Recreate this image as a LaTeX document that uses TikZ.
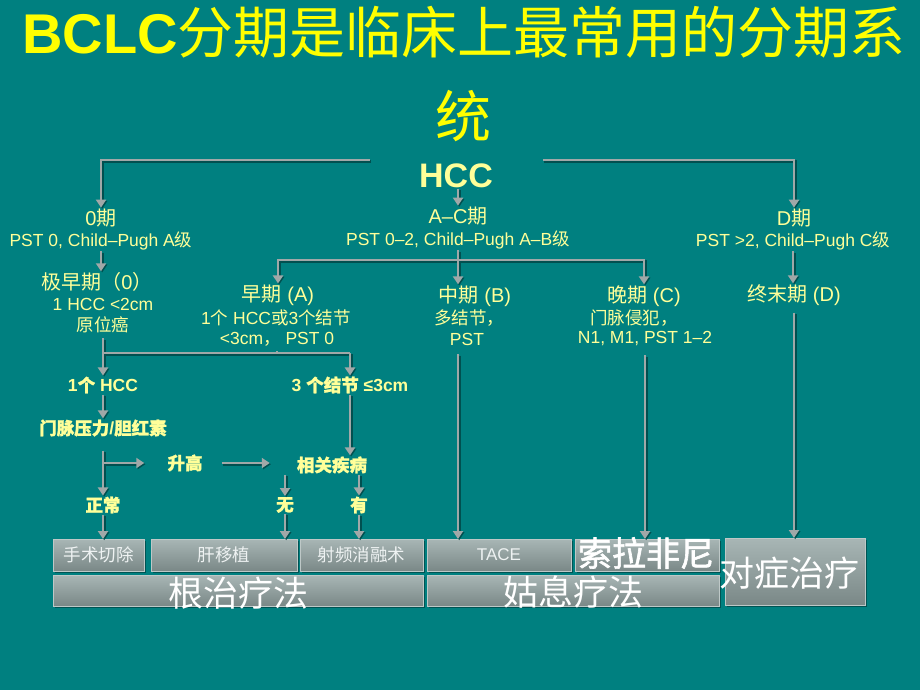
\documentclass[tikz,border=0pt]{standalone}
\usepackage{fontspec}
\setmainfont{Liberation Sans}
\newfontfamily\cjk{Noto Sans CJK SC}
\newfontfamily\cjkB[FakeBold=1.2]{Noto Sans CJK SC}
\newfontfamily\cjkBB[FakeBold=1.8]{Noto Sans CJK SC}
\newcommand{\zh}[1]{{\cjk #1}}
\newcommand{\zhb}[1]{{\cjkB #1}}
\usetikzlibrary{arrows.meta,shadows,calc}
\definecolor{bgc}{RGB}{0,128,128}
\definecolor{ty}{RGB}{255,255,153}
\definecolor{titley}{RGB}{255,255,0}
\definecolor{lg}{RGB}{160,168,168}
\definecolor{shd}{RGB}{0,80,80}
\definecolor{bt}{RGB}{168,182,181}
\definecolor{bbm}{RGB}{122,136,135}
\definecolor{bb}{RGB}{190,200,199}
\definecolor{bw}{RGB}{238,242,242}
\tikzset{
  hd/.style={text=ty, inner sep=1pt, font=\fontsize{20}{22}\selectfont},
  dt/.style={text=ty, inner sep=1pt, font=\fontsize{17.5}{20}\selectfont},
  bl/.style={text=ty, inner sep=1pt, font=\fontsize{17.5}{20}\selectfont\bfseries},
  ln/.style={draw=lg, line width=2.6pt, preaction={draw=shd, line width=2.6pt, transform canvas={shift={(1.2,1.2)}}}},
  arr/.style={ln, -{Triangle[width=10pt,length=8pt]}},
  box/.style={draw=bb, line width=0.8pt, top color=bt, bottom color=bbm, inner sep=0pt, outer sep=0pt,
    drop shadow={shadow xshift=1.5pt, shadow yshift=-1.5pt, fill=black, opacity=0.35}},
  bxs/.style={text=bw, inner sep=1pt, font=\fontsize{17.5}{20}\selectfont},
  bxl/.style={text=white, inner sep=1pt, font=\fontsize{35}{38}\selectfont}
}
\begin{document}
\begin{tikzpicture}[x=1pt,y=-1pt]
\fill[bgc] (0,0) rectangle (920,690);
\useasboundingbox (0,0) rectangle (920,690);

% title
\node[anchor=base west, inner sep=0pt, text=titley, font=\fontsize{56}{60}\selectfont] (t1) at (22,54)
  {{\bfseries BCLC}\zh{分期是临床上最常用的分期系}};
\node[anchor=base, inner sep=0pt, text=titley, font=\fontsize{56}{60}\selectfont] (t2) at (463,137) {\zh{统}};

% top level
\node[anchor=base, inner sep=1pt, text=ty, font=\fontsize{34}{36}\selectfont\bfseries] (hcc) at (456,187) {HCC};
\node[hd] (s0) at (101,218) {0\zh{期}};
\node[dt] (s0d) at (101,241) {PST 0, Child–Pugh A\zh{级}};
\node[hd] (sAC) at (458,216) {A–C\zh{期}};
\node[dt] (sACd) at (458,240) {PST 0–2, Child–Pugh A–B\zh{级}};
\node[hd] (sD) at (794,218) {D\zh{期}};
\node[dt] (sDd) at (793,241) {PST >2, Child–Pugh C\zh{级}};

% second level
\node[hd] (s0e) at (97,282) {\zh{极早期（}0\zh{）}};
\node[dt] (s0e1) at (103,304) {1 HCC <2cm};
\node[dt] (s0e2) at (103,325) {\zh{原位癌}};
\node[hd] (sA) at (278,295) {\zh{早期} (A)};
\node[dt] (sA1) at (276,318) {1\zh{个} HCC\zh{或}3\zh{个结节}};
\node[dt] (sA2) at (277,339) {<3cm\zh{，} PST 0};
\node[hd] (sB) at (475,296) {\zh{中期} (B)};
\node[dt] (sB1) at (469,318) {\zh{多结节，}};
\node[dt] (sB2) at (467,339) {PST};
\node[hd] (sC) at (644,296) {\zh{晚期} (C)};
\node[dt] (sC1) at (634,318) {\zh{门脉侵犯，}};
\node[dt] (sC2) at (645,339) {N1, M1, PST 1–2};
\node[hd] (sDe) at (794,295) {\zh{终末期} (D)};

% bold labels
\node[bl] (n1) at (103,385) {1\zhb{个} HCC};
\node[bl] (n3) at (350,385) {3 \zhb{个结节} ≤3cm};
\node[bl] (nP) at (103,428) {\zhb{门脉压力}/\zhb{胆红素}};
\node[bl] (nUp) at (185,463) {\zhb{升高}};
\node[bl] (nRel) at (332,465) {\zhb{相关疾病}};
\node[bl] (nNorm) at (103,505) {\zhb{正常}};
\node[bl] (nNo) at (285,505) {\zhb{无}};
\node[bl] (nYes) at (359,505) {\zhb{有}};

% boxes
\node[box, minimum width=91pt, minimum height=32pt] (b1) at (98.5,555) {};
\node[box, minimum width=146pt, minimum height=32pt] (b2) at (224,555) {};
\node[box, minimum width=123pt, minimum height=32pt] (b3) at (361.5,555) {};
\node[box, minimum width=144pt, minimum height=32pt] (bT) at (499,555) {};
\node[box, minimum width=144pt, minimum height=32pt] (bS) at (647,555) {};
\node[box, minimum width=140pt, minimum height=67pt] (bD) at (795,571.5) {};
\node[box, minimum width=370pt, minimum height=31pt] (bR) at (238,590.5) {};
\node[box, minimum width=292pt, minimum height=31pt] (bP) at (573,590.5) {};

\node[bxs] (l1) at (b1) {\zh{手术切除}};
\node[bxs] (l2) at (b2) {\zh{肝移植}};
\node[bxs] (l3) at (b3) {\zh{射频消融术}};
\node[bxs, font=\fontsize{17}{20}\selectfont] (lT) at (bT) {TACE};
\node[text=white, inner sep=1pt, font=\fontsize{34}{36}\selectfont] (lS) at (646,553) {{\cjkBB 索拉非尼}};
\node[bxl] (lD) at (789,573) {\zh{对症治疗}};
\node[bxl] (lR) at (238,593) {\zh{根治疗法}};
\node[bxl] (lP) at (573,592) {\zh{姑息疗法}};

% connectors
\coordinate (hl) at (370,160);
\coordinate (hr) at (543,160);
\coordinate (hb) at (458,260);
\coordinate (hj) at (103,353);
\draw[arr] (hl) -| (s0.north);
\draw[arr] (hr) -| (sD.north);
\draw[arr] (hcc.south -| sAC.north) -- (sAC.north);
\draw[ln] (sACd.south) -- (hb);
\draw[arr] (hb) -| (sA.north);
\draw[arr] (hb) -| (sC.north);
\draw[arr] (hb) -- (hb |- sB.north);
\draw[arr] (s0d.south) -- (s0d.south |- s0e.north);
\draw[arr] (sDd.south) -- (sDd.south |- sDe.north);

\draw[arr, shorten <=4pt] (s0e2.south) -- (s0e2.south |- n1.north);
\draw[ln, shorten <=4pt] (sA2.south) -- (sA2.south |- hj);
\draw[ln] (hj) -- (hj -| n3.north);
\draw[arr] (hj -| n3.north) -- (n3.north);
\draw[arr] (n1.south) -- (nP.north);
\draw[arr, shorten <=13pt] (nP.south) -- (nNorm.north);
\draw[arr] (nUp.west -| nP.south) -- ([xshift=-22pt]nUp.west);
\draw[arr] ([xshift=18pt]nUp.east) -- ($(nRel.west |- nUp.east)+(-26,0)$);
\draw[arr] (n3.south) -- (n3.south |- nRel.north);
\draw[arr] (nRel.south -| nNo) -- (nNo.north);
\draw[arr] (nRel.south -| nYes) -- (nYes.north);
\draw[arr] (nNorm.south) -- (nNorm.south |- b1.north);
\draw[arr] (nNo.south) -- (nNo.south |- b2.north);
\draw[arr] (nYes.south) -- (nYes.south |- b3.north);
\draw[arr, shorten <=8pt] (sB2.south -| hb) -- (hb |- bT.north);
\draw[arr, shorten <=8pt] (sC2.south) -- (sC2.south |- bS.north);
\draw[arr, shorten <=6pt] (sDe.south) -- (sDe.south |- bD.north);
\end{tikzpicture}
\end{document}
